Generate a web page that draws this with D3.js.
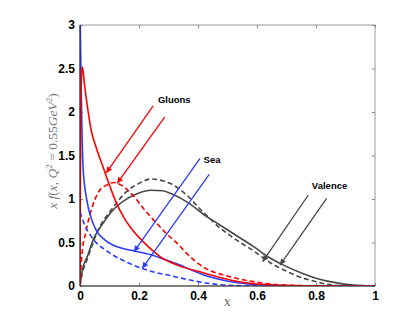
<!DOCTYPE html>
<html><head><meta charset="utf-8">
<script src="https://cdn.jsdelivr.net/npm/d3@7"></script>
<style>body{margin:0;background:#fff}svg{display:block}</style>
</head><body>
<svg id="c" width="415" height="322"></svg>
<script>
// ---- data ----
const xTicks = [0, 0.2, 0.4, 0.6, 0.8, 1];
const yTicks = [0, 0.5, 1, 1.5, 2, 2.5, 3];
const xTickLabels = ["0", "0.2", "0.4", "0.6", "0.8", "1"];
const yTickLabels = ["0", "0.5", "1", "1.5", "2", "2.5", "3"];

const gluonSolidX = [0, 0.002, 0.005, 0.008, 0.016, 0.027, 0.038, 0.056, 0.079, 0.102, 0.124, 0.15, 0.174, 0.22, 0.275, 0.33, 0.42, 0.53, 0.64, 0.8, 1];
const gluonSolidY = [0, 1.6, 2.4, 2.52, 2.29, 2.02, 1.79, 1.58, 1.36, 1.14, 0.95, 0.78, 0.66, 0.49, 0.33, 0.24, 0.15, 0.055, 0.015, 0.002, 0];

const gluonDashX = [0, 0.005, 0.021, 0.038, 0.061, 0.09, 0.115, 0.14, 0.18, 0.22, 0.26, 0.30, 0.33, 0.36, 0.417, 0.508, 0.587, 0.7, 0.85, 1];
const gluonDashY = [0, 0.3, 0.64, 0.87, 1.07, 1.16, 1.19, 1.16, 1.04, 0.87, 0.72, 0.58, 0.49, 0.38, 0.22, 0.107, 0.05, 0.01, 0, 0];

const seaSolidX = [0.001, 0.003, 0.006, 0.011, 0.023, 0.04, 0.055, 0.084, 0.126, 0.174, 0.24, 0.30, 0.332, 0.417, 0.53, 0.64, 0.8, 1];
const seaSolidY = [3.0, 2.5, 1.9, 1.33, 0.99, 0.76, 0.64, 0.53, 0.45, 0.41, 0.36, 0.29, 0.25, 0.13, 0.04, 0.008, 0.001, 0];

const seaDashX = [0, 0.016, 0.038, 0.06, 0.084, 0.105, 0.174, 0.24, 0.305, 0.36, 0.417, 0.475, 0.55, 0.7, 1];
const seaDashY = [0.85, 0.70, 0.57, 0.48, 0.42, 0.37, 0.25, 0.17, 0.12, 0.077, 0.04, 0.015, 0.003, 0, 0];

const valSolidX = [0, 0.005, 0.027, 0.05, 0.078, 0.106, 0.163, 0.2, 0.24, 0.28, 0.31, 0.37, 0.42, 0.475, 0.53, 0.59, 0.64, 0.69, 0.757, 0.8, 0.847, 0.925, 1];
const valSolidY = [0, 0.13, 0.36, 0.57, 0.72, 0.85, 1.01, 1.07, 1.10, 1.095, 1.06, 0.95, 0.82, 0.70, 0.58, 0.45, 0.33, 0.24, 0.14, 0.09, 0.05, 0.01, 0];

const valDashX = [0, 0.005, 0.027, 0.05, 0.061, 0.105, 0.163, 0.2, 0.24, 0.28, 0.305, 0.36, 0.417, 0.47, 0.53, 0.59, 0.644, 0.70, 0.757, 0.80, 0.835, 0.88, 0.95, 1];
const valDashY = [0, 0.1, 0.33, 0.55, 0.64, 0.87, 1.10, 1.18, 1.23, 1.21, 1.18, 1.05, 0.85, 0.68, 0.53, 0.40, 0.27, 0.17, 0.09, 0.05, 0.02, 0.005, 0, 0];

// annotations: label, label position, arrows [x1,y1,x2,y2] in data units
const annLabels = ["Gluons", "Sea", "Valence"];
const annLabelPos = [[0.264, 2.1], [0.419, 1.41], [0.786, 1.11]];
const annArrows = [
  [[0.248, 2.07, 0.089, 1.30], [0.287, 1.94, 0.126, 1.18]],
  [[0.407, 1.468, 0.183, 0.394], [0.438, 1.284, 0.211, 0.203]],
  [[0.774, 1.046, 0.619, 0.279], [0.836, 1.008, 0.678, 0.241]]
];

// ---- drawing ----
const RED = "#ff0000", BLUE = "#2a3cff", GRAY = "#474747";
const annColors = [RED, BLUE, GRAY];
const svg = d3.select("#c");
const L = 80, R = 375, T = 25, B = 286;
const x = d3.scaleLinear().domain([0, 1]).range([L, R]);
const y = d3.scaleLinear().domain([0, 3]).range([B, T]);

svg.append("defs").append("clipPath").attr("id", "clip")
  .append("rect").attr("x", L).attr("y", T).attr("width", R - L).attr("height", B - T);

const defs = svg.select("defs");
annColors.forEach((c, i) => {
  defs.append("marker").attr("id", "ah" + i)
    .attr("viewBox", "0 0 10 10").attr("refX", 10).attr("refY", 5)
    .attr("markerWidth", 8).attr("markerHeight", 6).attr("markerUnits", "userSpaceOnUse")
    .attr("orient", "auto")
    .append("path").attr("d", "M0,0 L10,5 L0,10 Z").attr("fill", c);
});

// box
svg.append("rect").attr("x", L).attr("y", T).attr("width", R - L).attr("height", B - T)
  .attr("fill", "none").attr("stroke", "#9a9a9a").attr("stroke-width", 1);

const tickStyle = g => {
  g.select(".domain").remove();
  g.selectAll(".tick line").attr("stroke", "#8a8a8a");
  g.selectAll(".tick text").attr("fill", "#000").attr("font-family", "Liberation Sans, Arial, sans-serif")
    .attr("font-weight", "bold").attr("font-size", 12);
};
svg.append("g").attr("transform", `translate(0,${B})`)
  .call(d3.axisBottom(x).tickValues(xTicks).tickFormat((d, i) => xTickLabels[i]).tickSizeInner(-3).tickSizeOuter(0).tickPadding(5))
  .call(tickStyle);
svg.append("g").attr("transform", `translate(0,${T})`)
  .call(d3.axisTop(x).tickValues(xTicks).tickFormat("").tickSizeInner(-3).tickSizeOuter(0))
  .call(tickStyle);
svg.append("g").attr("transform", `translate(${L},0)`)
  .call(d3.axisLeft(y).tickValues(yTicks).tickFormat((d, i) => yTickLabels[i]).tickSizeInner(-3).tickSizeOuter(0).tickPadding(5))
  .call(tickStyle);
svg.append("g").attr("transform", `translate(${R},0)`)
  .call(d3.axisRight(y).tickValues(yTicks).tickFormat("").tickSizeInner(-3).tickSizeOuter(0))
  .call(tickStyle);

// curves
const line = d3.line().x(d => x(d[0])).y(d => y(d[1])).curve(d3.curveMonotoneX);
const series = [
  [valSolidX, valSolidY, GRAY, null],
  [valDashX, valDashY, GRAY, "5,3"],
  [gluonDashX, gluonDashY, RED, "5,3"],
  [seaDashX, seaDashY, BLUE, "5,3"],
  [seaSolidX, seaSolidY, BLUE, null],
  [gluonSolidX, gluonSolidY, RED, null]
];
const plot = svg.append("g").attr("clip-path", "url(#clip)");
series.forEach(([xs, ys, c, dash]) => {
  plot.append("path").datum(xs.map((v, i) => [v, ys[i]]))
    .attr("d", line).attr("fill", "none").attr("stroke", c).attr("stroke-width", 1.6)
    .attr("stroke-dasharray", dash);
});

// bottom & left axis lines
svg.append("line").attr("x1", L).attr("x2", R).attr("y1", B).attr("y2", B).attr("stroke", "#333").attr("stroke-width", 1.2);
svg.append("line").attr("x1", L).attr("x2", L).attr("y1", T).attr("y2", B).attr("stroke", "#333").attr("stroke-width", 1.2);

// annotations
annArrows.forEach((arr, i) => {
  arr.forEach(a => {
    svg.append("line").attr("x1", x(a[0])).attr("y1", y(a[1])).attr("x2", x(a[2])).attr("y2", y(a[3]))
      .attr("stroke", annColors[i]).attr("stroke-width", 1.3).attr("marker-end", `url(#ah${i})`);
  });
  svg.append("text").attr("x", x(annLabelPos[i][0])).attr("y", y(annLabelPos[i][1]))
    .attr("font-family", "Liberation Sans, Arial, sans-serif").attr("font-weight", "bold")
    .attr("font-size", 9.5).attr("fill", "#000").text(annLabels[i]);
});

// axis labels
svg.append("text").attr("x", (L + R) / 2).attr("y", 306).attr("text-anchor", "middle")
  .attr("font-family", "DejaVu Serif, Liberation Serif, serif").attr("font-style", "italic")
  .attr("font-size", 12).attr("fill", "#666").text("x");

const yl = svg.append("text").attr("transform", "translate(57,151) rotate(-90)").attr("text-anchor", "middle")
  .attr("font-family", "Liberation Serif, Times New Roman, serif").attr("font-size", 13.5).attr("fill", "#777");
yl.append("tspan").attr("font-style", "italic").text("x f");
yl.append("tspan").text("(");
yl.append("tspan").attr("font-style", "italic").text("x");
yl.append("tspan").text(", ");
yl.append("tspan").attr("font-style", "italic").text("Q");
yl.append("tspan").attr("font-size", 9).attr("dy", -5).text("2");
yl.append("tspan").attr("dy", 5).text(" = 0.55");
yl.append("tspan").attr("font-style", "italic").text("GeV");
yl.append("tspan").attr("font-size", 9).attr("dy", -5).text("2");
yl.append("tspan").attr("dy", 5).text(")");
</script>
</body></html>
